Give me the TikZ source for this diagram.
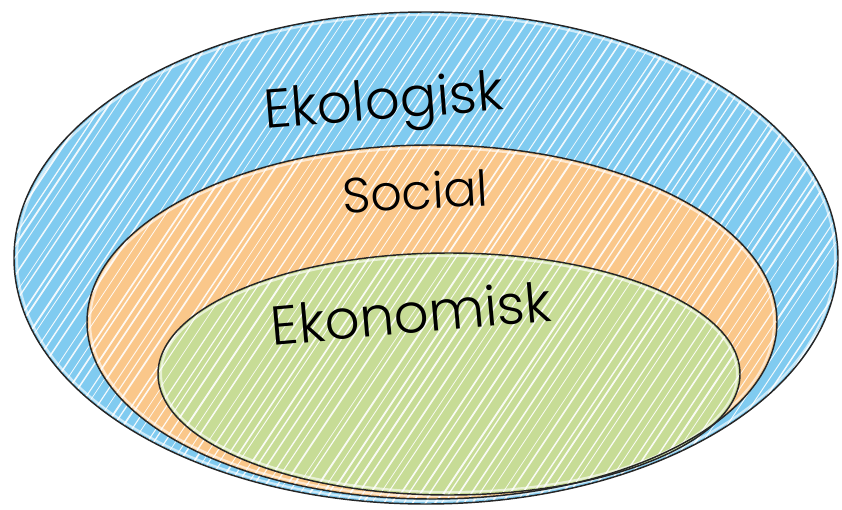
\documentclass[tikz,border=0pt]{standalone}
\usepackage{fontspec}
\setmainfont{Poppins}[UprightFont=* Light]
\definecolor{ecocol}{RGB}{128,203,240}
\definecolor{soccol}{RGB}{250,199,138}
\definecolor{ekncol}{RGB}{199,220,150}
\newcommand\myhatch{%
  \foreach \i in {-520,-510,...,860}{%
    \pgfmathsetmacro\off{\i+rnd*6}%
    \pgfmathsetmacro\lw{0.5+rnd*0.9}%
    \draw[white, opacity=0.9, line width=\lw pt] (\off,520) -- ++(400,-600);
  }}
\begin{document}
\begin{tikzpicture}[x=0.75pt,y=-0.75pt,
  rim/.style={draw=black!85, line width=1.1pt},
  gap/.style={draw=white, opacity=0.6, line width=1.6pt},
  lbl/.style={font=\fontsize{41}{46}\selectfont, inner sep=0pt, text=black}]
\useasboundingbox (0,0) rectangle (842,510);
\pgfmathsetseed{7}
% outer
\fill[ecocol] (426,258) ellipse [x radius=412, y radius=246];
\begin{scope}
  \clip (426,258) ellipse [x radius=412, y radius=246];
  \myhatch
\end{scope}
\draw[gap] (426,258) ellipse [x radius=409, y radius=243];
% middle
\fill[soccol] (432,322) ellipse [x radius=345, y radius=177];
\begin{scope}
  \clip (432,322) ellipse [x radius=345, y radius=177];
  \myhatch
\end{scope}
\draw[gap] (432,322) ellipse [x radius=342, y radius=174];
% inner
\fill[ekncol] (449,374) ellipse [x radius=291, y radius=121];
\begin{scope}
  \clip (449,374) ellipse [x radius=291, y radius=121];
  \myhatch
\end{scope}
\draw[gap] (449,374) ellipse [x radius=288, y radius=118];
% outlines
\draw[rim] (426,258) ellipse [x radius=412, y radius=246];
\draw[rim] (432,322) ellipse [x radius=345, y radius=177];
\draw[rim] (449,374) ellipse [x radius=291, y radius=121];
% labels
\node[lbl, rotate=4.5] (ekol) at (384,106) {Ekologisk};
\node[lbl, rotate=3, font=\fontsize{37}{42}\selectfont] (soc) at (415,191) {Social};
\node[lbl, rotate=5] (ekon) at (411,313) {Ekonomisk};
\end{tikzpicture}
\end{document}
